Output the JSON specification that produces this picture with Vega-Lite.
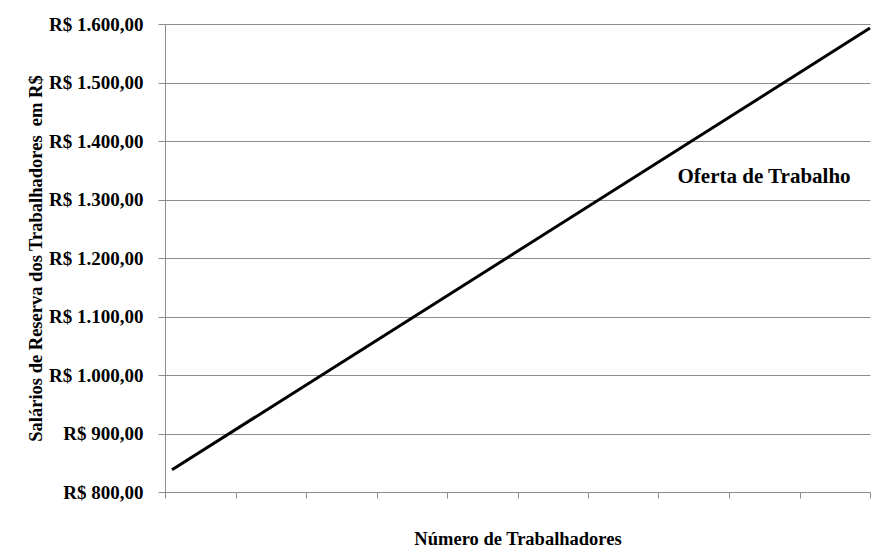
{
  "$schema": "https://vega.github.io/schema/vega-lite/v6.json",
  "autosize": {"type": "none"},
  "width": 705,
  "height": 468,
  "padding": {"left": 165, "top": 24, "right": 16, "bottom": 67},
  "background": "white",
  "config": {
    "view": {"stroke": null},
    "locale": {"number": {"decimal": ",", "thousands": ".", "grouping": [3], "currency": ["R$ ", ""]}},
    "font": "Liberation Serif"
  },
  "datasets": {
    "oferta": [
      {"trabalhadores": 0.1, "salario": 838},
      {"trabalhadores": 10, "salario": 1593}
    ],
    "rotulo": [
      {"trabalhadores": 7.27, "salario": 1338, "texto": "Oferta de Trabalho"}
    ]
  },
  "layer": [
    {
      "data": {"name": "oferta"},
      "mark": {"type": "line", "color": "black", "strokeWidth": 3},
      "encoding": {
        "x": {
          "field": "trabalhadores", "type": "quantitative",
          "scale": {"domain": [0, 10], "nice": false, "zero": false},
          "axis": {
            "title": "Número de Trabalhadores",
            "values": [0, 1, 2, 3, 4, 5, 6, 7, 8, 9, 10],
            "labels": false, "grid": false,
            "domainColor": "#8c8c8c", "tickColor": "#8c8c8c", "tickSize": 6,
            "titleFont": "Liberation Serif", "titleFontSize": 18.5, "titleFontWeight": "bold",
            "titleColor": "black", "titleBaseline": "alphabetic", "titleY": 52
          }
        },
        "y": {
          "field": "salario", "type": "quantitative",
          "scale": {"domain": [800, 1600], "nice": false, "zero": false},
          "axis": {
            "title": "Salários de Reserva dos Trabalhadores \u00a0em R$",
            "values": [800, 900, 1000, 1100, 1200, 1300, 1400, 1500, 1600],
            "format": "$,.2f",
            "gridColor": "#8c8c8c", "domainColor": "#8c8c8c", "tickColor": "#8c8c8c", "tickSize": 7,
            "labelFont": "Liberation Serif", "labelFontSize": 19, "labelFontWeight": "bold",
            "labelColor": "black", "labelPadding": 15,
            "titleFont": "Liberation Serif", "titleFontSize": 18.5, "titleFontWeight": "bold",
            "titleColor": "black", "titleX": -130, "titleY": 234, "titleAngle": 270,
            "titleAlign": "center", "titleBaseline": "middle"
          }
        }
      }
    },
    {
      "data": {"name": "rotulo"},
      "mark": {"type": "text", "align": "left", "baseline": "middle", "font": "Liberation Serif", "fontSize": 21, "fontWeight": "bold", "color": "black"},
      "encoding": {
        "x": {"field": "trabalhadores", "type": "quantitative"},
        "y": {"field": "salario", "type": "quantitative"},
        "text": {"field": "texto"}
      }
    }
  ]
}
